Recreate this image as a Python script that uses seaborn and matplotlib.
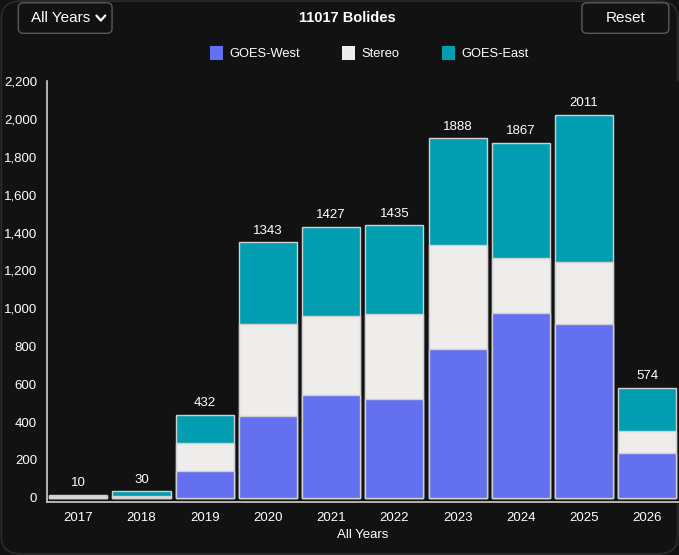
import seaborn as sns
import pandas as pd
import matplotlib.pyplot as plt
from matplotlib.patches import FancyBboxPatch, Patch
from matplotlib.lines import Line2D

years = ["2017", "2018", "2019", "2020", "2021", "2022", "2023", "2024", "2025", "2026"]
goes_west = [0, 0, 141, 434, 545, 521, 786, 977, 920, 235]
stereo = [8, 10, 146, 482, 415, 450, 546, 289, 326, 120]
goes_east = [6, 24, 152, 432, 472, 468, 565, 608, 774, 226]
totals = [10, 30, 432, 1343, 1427, 1435, 1888, 1867, 2011, 574]

series = ["GOES-West", "Stereo", "GOES-East"]
colors = {"GOES-West": "#6370f0", "Stereo": "#eeedeb", "GOES-East": "#009eb0"}

df = pd.DataFrame({"year": years, "GOES-West": goes_west,
                   "Stereo": stereo, "GOES-East": goes_east})

bg = "#121212"

sns.set_style("dark")
plt.rcParams['font.family'] = ['Liberation Sans', 'DejaVu Sans']

fig = plt.figure(figsize=(6.79, 5.55), dpi=100, facecolor=bg)
# rounded card border, behind everything
card = FancyBboxPatch((0.002, 0.002), 0.996, 0.996, boxstyle="round,pad=0,rounding_size=0.03",
                      transform=fig.transFigure, facecolor=bg, edgecolor="#2c2c2c", linewidth=1.2, zorder=-5)
fig.patches.append(card)
ax = fig.add_axes([0.0688, 0.0955, 0.931, 0.7585])
ax.set_facecolor(bg)

# stacked bars: draw cumulative sums back to front with seaborn
cum = df[series].cumsum(axis=1)
for s in reversed(series):
    sns.barplot(x=df["year"], y=cum[s], color=colors[s], ax=ax, width=0.92,
                edgecolor="#d0d0d0", linewidth=1.0, saturation=1)

for i, t in enumerate(totals):
    top = cum["GOES-East"][i]
    ax.text(i, top + 30, str(t), ha="center", va="bottom", color="white", fontsize=9.5)

ax.set_xlim(-0.5, 9.5)
ax.set_ylim(-22, 2200)
ax.set_yticks(range(0, 2201, 200))
ax.set_yticklabels([f"{v:,}" for v in range(0, 2201, 200)])
ax.grid(False)
for side in ["top", "right"]:
    ax.spines[side].set_visible(False)
for side in ["left", "bottom"]:
    ax.spines[side].set_color("#cfcfcf")
    ax.spines[side].set_linewidth(1.2)
ax.tick_params(colors="#cfcfcf", labelcolor="white", labelsize=9.5, length=5, width=1.2, pad=2)
ax.set_xlabel("All Years", color="white", fontsize=9.5, labelpad=4)
ax.set_ylabel("")

handles = [Patch(facecolor=colors[s], edgecolor="none") for s in series]
fig.legend(handles, series, loc="center", bbox_to_anchor=(0.544, 0.905), ncol=3,
           frameon=False, labelcolor="white", fontsize=9.3, handlelength=1.0,
           handleheight=1.3, columnspacing=3.3, handletextpad=0.5)

fig.text(0.512, 0.967, "11017 Bolides", ha="center", va="center", color="white",
         fontsize=10.5, fontweight="bold")

# header controls
fig.patches.append(FancyBboxPatch((0.027, 0.94), 0.138, 0.055, boxstyle="round,pad=0,rounding_size=0.008",
                                  transform=fig.transFigure, facecolor=bg, edgecolor="#5a5a5a", linewidth=1))
fig.text(0.046, 0.967, "All Years", ha="left", va="center", color="white", fontsize=11)
fig.lines.append(Line2D([0.142, 0.1485, 0.155], [0.972, 0.963, 0.972], transform=fig.transFigure,
                        color="white", linewidth=1.6))
fig.patches.append(FancyBboxPatch((0.857, 0.94), 0.128, 0.055, boxstyle="round,pad=0,rounding_size=0.008",
                                  transform=fig.transFigure, facecolor=bg, edgecolor="#5a5a5a", linewidth=1))
fig.text(0.921, 0.967, "Reset", ha="center", va="center", color="white", fontsize=11)

fig.savefig("out.png", dpi=100, facecolor=bg)
